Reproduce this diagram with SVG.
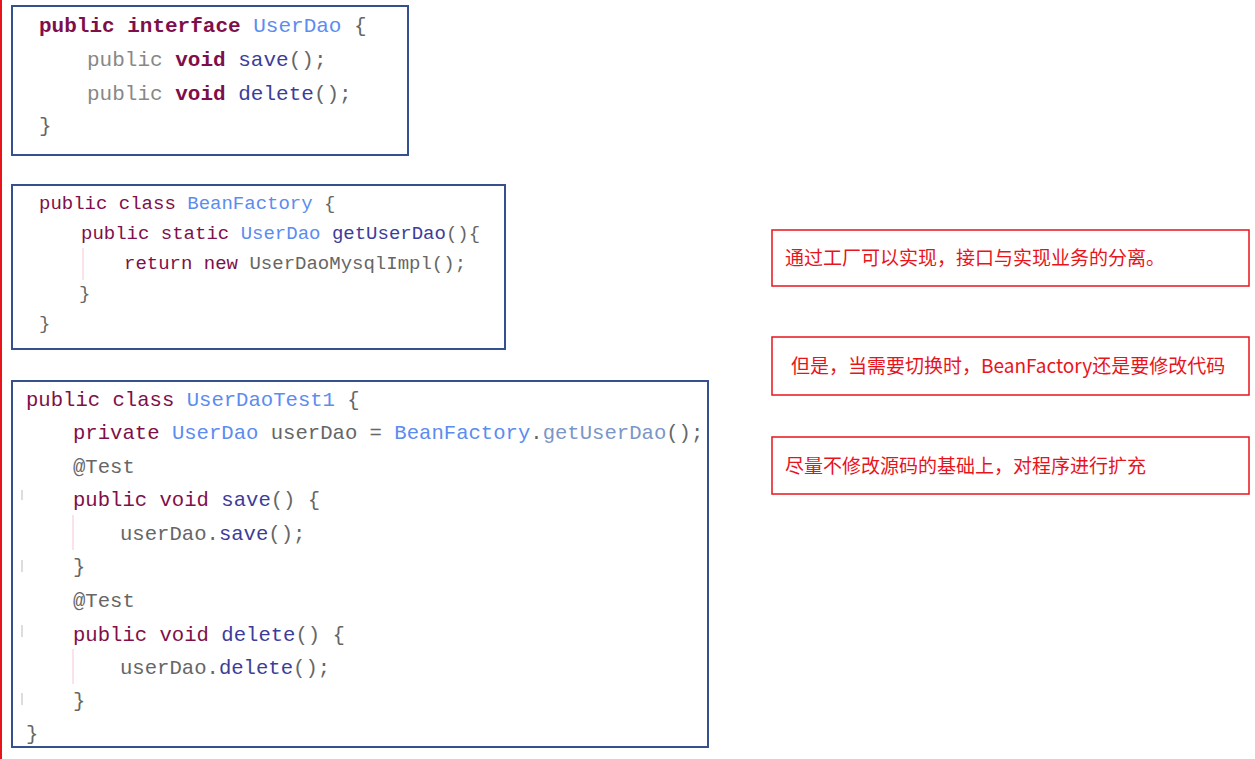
<svg xmlns="http://www.w3.org/2000/svg" width="1255" height="759" viewBox="0 0 1255 759">
<style>
.box{fill:#fff;stroke:#34508f;stroke-width:2}
.rb{fill:#fff;stroke:#e8141c;stroke-width:1.5}
.c{font-family:"Liberation Mono","Noto Sans Mono",monospace;fill:#666}
.k{fill:#7f0f4a;font-weight:bold}
.kk{fill:#7f0f4a}
.t{fill:#5b8cf0}
.m{fill:#3c3c9a}
.g{fill:#888}
.r{font-family:"Noto Sans CJK SC",sans-serif;font-size:19px;fill:#e8141c}
.guide{stroke:#f5c6d6;stroke-width:1}
.gm{stroke:#bbb;stroke-width:1}
</style>
<rect width="1255" height="759" fill="#fff"/>
<line x1="1" y1="0" x2="1" y2="759" stroke="#e8141c" stroke-width="2"/>
<g id="userdao">
<rect class="box" x="12" y="6" width="396" height="149"/>
<text class="c" font-size="21" x="39" y="32"><tspan class="k">public interface</tspan> <tspan class="t">UserDao</tspan> {</text>
<text class="c" font-size="21" x="87" y="66"><tspan class="g">public</tspan> <tspan class="k">void</tspan> <tspan class="m">save</tspan>();</text>
<text class="c" font-size="21" x="87" y="100"><tspan class="g">public</tspan> <tspan class="k">void</tspan> <tspan class="m">delete</tspan>();</text>
<text class="c" font-size="21" x="39" y="132">}</text>
</g>
<g id="beanfactory">
<rect class="box" x="12" y="185" width="493" height="164"/>
<line class="guide" x1="83" y1="248" x2="83" y2="280"/>
<text class="c" font-size="19" x="39" y="209"><tspan class="kk">public class</tspan> <tspan class="t">BeanFactory</tspan> {</text>
<text class="c" font-size="19" x="81" y="239"><tspan class="kk">public static</tspan> <tspan class="t">UserDao</tspan> <tspan class="m">getUserDao</tspan>(){</text>
<text class="c" font-size="19" x="124" y="269"><tspan class="kk">return new</tspan> UserDaoMysqlImpl();</text>
<text class="c" font-size="19" x="79" y="299">}</text>
<text class="c" font-size="19" x="39" y="329">}</text>
</g>
<g id="userdaotest1">
<rect class="box" x="12" y="381" width="696" height="366"/>
<line class="guide" x1="73" y1="515" x2="73" y2="550"/>
<line class="guide" x1="73" y1="649" x2="73" y2="684"/>
<line class="gm" x1="22" y1="490" x2="22" y2="500"/>
<line class="gm" x1="22" y1="560" x2="22" y2="572"/>
<line class="gm" x1="22" y1="625" x2="22" y2="637"/>
<line class="gm" x1="22" y1="693" x2="22" y2="705"/>
<text class="c" font-size="20.6" x="26" y="406"><tspan class="kk">public class</tspan> <tspan class="t">UserDaoTest1</tspan> {</text>
<text class="c" font-size="20.6" x="73" y="439"><tspan class="kk">private</tspan> <tspan class="t">UserDao</tspan> userDao = <tspan class="t">BeanFactory</tspan>.<tspan fill="#7a96c8">getUserDao</tspan>();</text>
<text class="c" font-size="20.6" x="73" y="473" fill="#7a96c8">@Test</text>
<text class="c" font-size="20.6" x="73" y="506"><tspan class="kk">public void</tspan> <tspan class="m">save</tspan>() {</text>
<text class="c" font-size="20.6" x="120" y="540">userDao.<tspan class="m">save</tspan>();</text>
<text class="c" font-size="20.6" x="73" y="573">}</text>
<text class="c" font-size="20.6" x="73" y="607" fill="#7a96c8">@Test</text>
<text class="c" font-size="20.6" x="73" y="641"><tspan class="kk">public void</tspan> <tspan class="m">delete</tspan>() {</text>
<text class="c" font-size="20.6" x="120" y="674">userDao.<tspan class="m">delete</tspan>();</text>
<text class="c" font-size="20.6" x="73" y="707">}</text>
<text class="c" font-size="20.6" x="26" y="740">}</text>
</g>
<g id="note1">
<rect class="rb" x="772" y="230" width="477" height="56"/>
<text class="r" x="785" y="265">通过工厂可以实现，接口与实现业务的分离。</text>
</g>
<g id="note2">
<rect class="rb" x="772" y="337" width="477" height="58"/>
<text class="r" x="791" y="373">但是，当需要切换时，BeanFactory还是要修改代码</text>
</g>
<g id="note3">
<rect class="rb" x="772" y="437" width="477" height="57"/>
<text class="r" x="785" y="473">尽量不修改源码的基础上，对程序进行扩充</text>
</g>
<g id="connectors"/>
</svg>
